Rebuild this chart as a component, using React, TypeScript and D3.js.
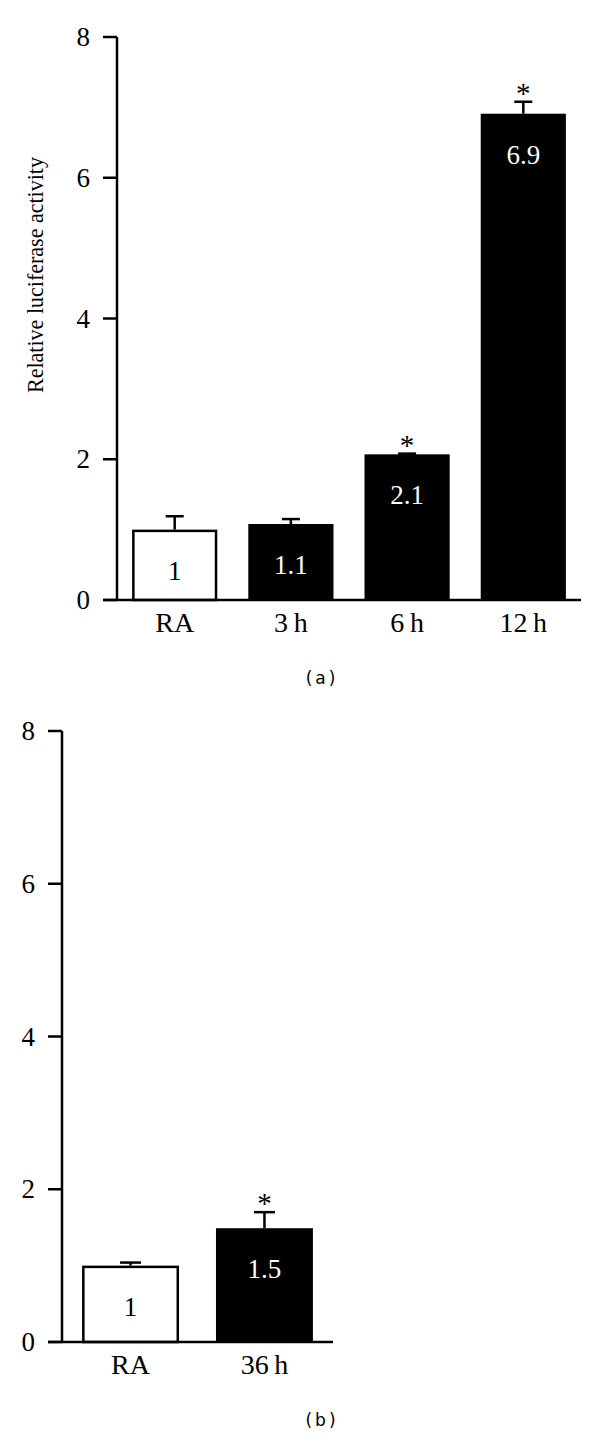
import React from 'react';
import * as d3 from 'd3';

// panel (a)
const catsA = ['RA', '3\u2009h', '6\u2009h', '12\u2009h'];
const valsA = [1, 1.08, 2.07, 6.91];
const errA = [0.19, 0.07, 0.01, 0.17];
const labelsA = ['1', '1.1', '2.1', '6.9'];
const starsA = [false, false, true, true];

// panel (b)
const catsB = ['RA', '36\u2009h'];
const valsB = [1, 1.49];
const errB = [0.04, 0.21];
const labelsB = ['1', '1.5'];
const starsB = [false, true];

const yTicks = [0, 2, 4, 6, 8];

const serif = '"Liberation Serif", "Times New Roman", serif';

interface PanelProps {
  cats: string[];
  vals: number[];
  errs: number[];
  labels: string[];
  stars: boolean[];
  x0: number;
  x1: number;
  yTop: number;
  yBottom: number;
  padOuter: number;
  padInner: number;
  capW: number;
  title: string;
  titleY: number;
  yLabel?: string;
}

const Panel: React.FC<PanelProps> = (p) => {
  const y = d3.scaleLinear().domain([0, 8]).range([p.yBottom, p.yTop]);
  const x = d3.scaleBand<number>()
    .domain(d3.range(p.cats.length))
    .range([p.x0, p.x1])
    .paddingInner(p.padInner)
    .paddingOuter(p.padOuter);
  const tickLen = 14;

  return (
    <g>
      {/* y axis */}
      <line x1={p.x0} x2={p.x0} y1={y(8)} y2={y(0)} stroke="#000" strokeWidth={2.5} />
      {yTicks.map(t => (
        <g key={t}>
          <line x1={p.x0 - tickLen} x2={p.x0} y1={y(t)} y2={y(t)} stroke="#000" strokeWidth={2.5} />
          <text x={p.x0 - tickLen - 13} y={y(t)} dy="0.34em" textAnchor="end"
            fontFamily={serif} fontSize={27}>{t}</text>
        </g>
      ))}
      {p.yLabel && (
        <text transform={`translate(43,157) rotate(-90)`} textAnchor="end"
          fontFamily={serif} fontSize={24} textLength={236} lengthAdjust="spacingAndGlyphs">{p.yLabel}</text>
      )}

      {/* bars */}
      {p.vals.map((v, i) => {
        const bx = x(i)!;
        const bw = x.bandwidth();
        const cx = bx + bw / 2;
        const top = y(v);
        const eTop = y(v + p.errs[i]);
        const white = i === 0;
        return (
          <g key={i}>
            <line x1={cx} x2={cx} y1={top} y2={eTop} stroke="#000" strokeWidth={2.5} />
            <line x1={cx - p.capW / 2} x2={cx + p.capW / 2} y1={eTop} y2={eTop} stroke="#000" strokeWidth={2.5} />
            <rect x={white ? bx + 1.25 : bx} y={white ? top + 1.25 : top}
              width={white ? bw - 2.5 : bw} height={white ? y(0) - top - 1.25 : y(0) - top}
              fill={white ? '#fff' : '#000'} stroke={white ? '#000' : 'none'} strokeWidth={2.5} />
            <text x={cx} y={top + 50} textAnchor="middle" fontFamily={serif} fontSize={27}
              fill={white ? '#000' : '#fff'}>{p.labels[i]}</text>
            {p.stars[i] && (
              <text x={cx} y={eTop + 1} textAnchor="middle" fontFamily={serif} fontSize={29}>*</text>
            )}
            <text x={cx} y={y(0) + 32} textAnchor="middle" fontFamily={serif} fontSize={28}>{p.cats[i]}</text>
          </g>
        );
      })}

      {/* x axis */}
      <line x1={p.x0 - tickLen} x2={p.x1} y1={y(0)} y2={y(0)} stroke="#000" strokeWidth={2.5} />

      <text x={322} y={p.titleY} textAnchor="middle" fontFamily='"DejaVu Sans", sans-serif'
        fontSize={17} letterSpacing={3}>{p.title}</text>
    </g>
  );
};

export default function App() {
  return (
    <svg width={600} height={1442} style={{ position: 'absolute', left: 0, top: 0, background: '#fff' }}>
      <rect width={600} height={1442} fill="#fff" />
      <Panel cats={catsA} vals={valsA} errs={errA} labels={labelsA} stars={starsA}
        x0={117} x1={581} yTop={37} yBottom={600} padOuter={0.13} padInner={0.267}
        capW={18} title="(a)" titleY={684} yLabel="Relative luciferase activity" />
      <Panel cats={catsB} vals={valsB} errs={errB} labels={labelsB} stars={starsB}
        x0={62} x1={333} yTop={731} yBottom={1342} padOuter={0.15} padInner={0.276}
        capW={21} title="(b)" titleY={1426} />
    </svg>
  );
}
